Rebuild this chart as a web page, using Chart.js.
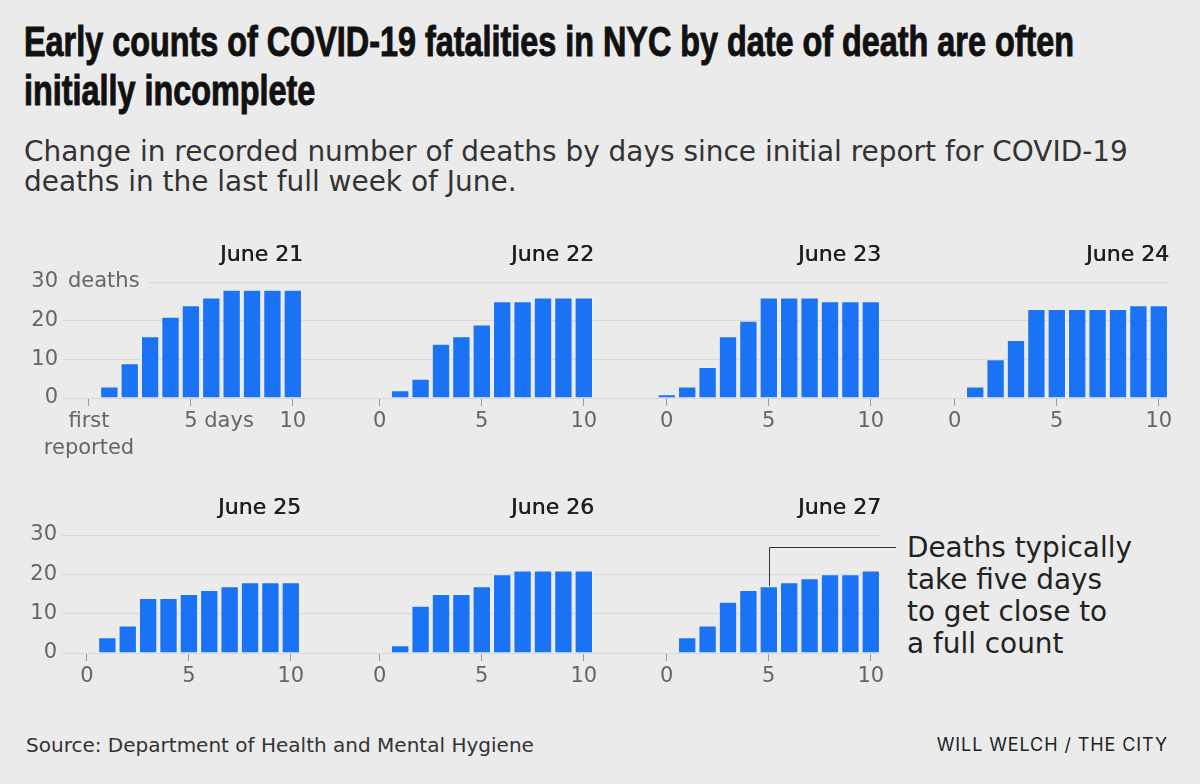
<!DOCTYPE html>
<html>
<head>
<meta charset="utf-8">
<script src="https://cdn.jsdelivr.net/npm/chart.js@4.4.0/dist/chart.umd.min.js"></script>
<style>
  body { margin: 0; background: #ebebeb; width: 1200px; height: 784px; overflow: hidden; position: relative; font-family: "DejaVu Sans", sans-serif; }
  .abs { position: absolute; white-space: nowrap; }
  #title { left: 24px; top: 17px; font-family: "Liberation Sans", sans-serif; font-weight: bold; font-size: 43px; line-height: 49px; color: #111; -webkit-text-stroke: 1px #111; }
  #title div { transform-origin: left center; }
  #subtitle { left: 24px; top: 137px; font-size: 24px; line-height: 30px; color: #333; }
  #note { left: 907px; top: 532px; font-size: 24px; line-height: 32px; color: #222; }
  #source { left: 26px; top: 733px; font-size: 18px; line-height: 24px; color: #333; }
  #credit { right: 32px; top: 733px; font-family: Inter, sans-serif; font-size: 18px; line-height: 24px; color: #222; letter-spacing: 0.9px; }
  canvas { position: absolute; }
</style>
</head>
<body>
<div id="title" class="abs"><div>Early counts of COVID-19 fatalities in NYC by date of death are often</div><div>initially incomplete</div></div>
<div id="subtitle" class="abs"><span class="l1">Change in recorded number of deaths by days since initial report for COVID-19</span><br>deaths in the last full week of June.</div>
<div id="note" class="abs"><span class="l1">Deaths typically</span><br>take five days<br>to get close to<br>a full count</div>
<div id="source" class="abs"><span class="l1">Source: Department of Health and Mental Hygiene</span></div>
<div id="credit" class="abs">WILL WELCH / THE CITY</div>

<script>
// days since the first report
const days = [0, 1, 2, 3, 4, 5, 6, 7, 8, 9, 10];
const dates = ['June 21', 'June 22', 'June 23', 'June 24', 'June 25', 'June 26', 'June 27'];

// recorded deaths for each date of death, by days since first report
const june21 = [0, 3, 9, 16, 21, 24, 26, 28, 28, 28, 28];
const june22 = [0, 2, 5, 14, 16, 19, 25, 25, 26, 26, 26];
const june23 = [1, 3, 8, 16, 20, 26, 26, 26, 25, 25, 25];
const june24 = [0, 3, 10, 15, 23, 23, 23, 23, 23, 24, 24];
const june25 = [0, 4, 7, 14, 14, 15, 16, 17, 18, 18, 18];
const june26 = [0, 2, 12, 15, 15, 17, 20, 21, 21, 21, 21];
const june27 = [0, 4, 7, 13, 16, 17, 18, 19, 20, 20, 21];
const series = [june21, june22, june23, june24, june25, june26, june27];

const xTicks = [0, 5, 10];
const yTicks = [0, 10, 20, 30];
const firstXLabels = [['first', 'reported'], '5', '10'];

// fit the condensed headline to its width
document.querySelectorAll('#title div').forEach(function (d) {
  d.style.display = 'inline-block';
});
const t1 = document.querySelector('#title div');
const k = 1050 / t1.getBoundingClientRect().width;
document.querySelectorAll('#title div').forEach(function (d) {
  d.style.transform = 'scaleX(' + k + ')';
  d.style.display = 'block';
});

// size the text blocks so their first line matches the reference width
function fitWidth(id, target) {
  const el = document.getElementById(id);
  const w = el.querySelector('.l1').getBoundingClientRect().width;
  const fs = parseFloat(getComputedStyle(el).fontSize);
  el.style.fontSize = (fs * target / w).toFixed(2) + 'px';
}
fitWidth('subtitle', 1104);
fitWidth('note', 225);
fitWidth('source', 508);

const FONT = 'DejaVu Sans';
Chart.defaults.font.family = FONT;
Chart.defaults.animation = false;

const BLUE = '#1a73f4';
const GRID = '#d8d8d8';
const TICK_TEXT = '#666';
const TICK_SIZE = 21;
const PPD = 20.4; // pixels per day

const rows = [
  { top: 282, bottom: 398, canvasTop: 230, xh: 70, left: 63 },
  { top: 535, bottom: 653, canvasTop: 485, xh: 40, left: 62 }
];
const panels = [
  { row: 0, day0: 89, first: true },
  { row: 0, day0: 380 },
  { row: 0, day0: 667 },
  { row: 0, day0: 955 },
  { row: 1, day0: 87, first: true },
  { row: 1, day0: 380 },
  { row: 1, day0: 667, note: true }
];

const panelText = {
  id: 'panelText',
  afterDraw(chart, args, opts) {
    const ctx = chart.ctx;
    const a = chart.chartArea;
    const xs = chart.scales.x, ys = chart.scales.y;
    ctx.save();
    ctx.textBaseline = 'middle';
    ctx.font = '22px "' + FONT + '"';
    ctx.fillStyle = '#1e1e1e';
    ctx.textAlign = 'right';
    ctx.fillText(opts.title, a.right, a.top - 27);
    ctx.fillText(opts.title, a.right + 0.4, a.top - 27);

    if (opts.units) {
      ctx.font = TICK_SIZE + 'px "' + FONT + '"';
      const yy = ys.getPixelForValue(30);
      const w = ctx.measureText('deaths').width;
      ctx.fillStyle = '#ebebeb';
      ctx.fillRect(a.left, yy - 3, w + 14, 6);
      ctx.fillStyle = TICK_TEXT;
      ctx.textAlign = 'left';
      ctx.fillText('deaths', a.left + 5, yy);
      const xx = xs.getPixelForValue(5) + ctx.measureText('5').width / 2 + ctx.measureText(' ').width;
      ctx.fillText('days', xx, a.bottom + 8 + 1.5 + TICK_SIZE * 1.3 / 2);
    }

    if (opts.note) {
      const px = xs.getPixelForValue(5);
      const py = ys.getPixelForValue(opts.values[5]);
      const ly = a.top + 12;
      ctx.strokeStyle = '#333';
      ctx.lineWidth = 1;
      ctx.beginPath();
      ctx.moveTo(Math.round(px) + 0.5, py);
      ctx.lineTo(Math.round(px) + 0.5, Math.round(ly) + 0.5);
      ctx.lineTo(a.right + 15, Math.round(ly) + 0.5);
      ctx.stroke();
    }
    ctx.restore();
  }
};

let prevRight = 0;
panels.forEach(function (p, i) {
  const r = rows[p.row];
  const areaRight = p.day0 + 10.5 * PPD;
  const areaLeft = p.first ? r.left : prevRight;
  prevRight = areaRight;
  const padL = p.first ? 0 : 20;
  const padR = p.note ? 40 : 20;
  const cLeft = p.first ? 0 : areaLeft - 20;
  const yw = p.first ? areaLeft : 0;
  const W = Math.round(areaRight + padR - cLeft);
  const H = r.bottom - r.canvasTop + r.xh;

  const cv = document.createElement('canvas');
  cv.width = W;
  cv.height = H;
  cv.style.left = cLeft + 'px';
  cv.style.top = r.canvasTop + 'px';
  cv.style.width = W + 'px';
  cv.style.height = H + 'px';
  document.body.appendChild(cv);

  const unitsPanel = (i === 0);

  new Chart(cv.getContext('2d'), {
    type: 'bar',
    data: {
      labels: days,
      datasets: [{
        data: series[i],
        backgroundColor: BLUE,
        borderColor: 'rgba(255,255,255,0.3)',
        borderWidth: 1,
        barPercentage: 0.9,
        categoryPercentage: 1
      }]
    },
    plugins: [panelText],
    options: {
      responsive: false,
      devicePixelRatio: 1,
      layout: { padding: { left: padL, right: padR, top: r.top - r.canvasTop, bottom: 0 } },
      plugins: {
        legend: { display: false },
        tooltip: { enabled: false },
        panelText: { title: dates[i], units: unitsPanel, note: !!p.note, values: series[i] }
      },
      scales: {
        x: {
          type: 'linear',
          min: -(p.day0 - areaLeft) / PPD,
          max: 10.5,
          offset: false,
          afterBuildTicks: function (s) { s.ticks = xTicks.map(function (v) { return { value: v }; }); },
          afterFit: function (s) { s.height = r.xh; },
          grid: { offset: false, drawOnChartArea: false, tickLength: 8, color: '#9a9a9a' },
          border: { display: false },
          ticks: {
            padding: 1.5,
            maxRotation: 0,
            autoSkip: false,
            color: TICK_TEXT,
            font: { size: TICK_SIZE, lineHeight: 1.3 },
            callback: function (v) {
              return unitsPanel ? firstXLabels[xTicks.indexOf(v)] : String(v);
            }
          }
        },
        y: {
          min: 0,
          max: 30,
          afterBuildTicks: function (s) { s.ticks = yTicks.map(function (v) { return { value: v }; }); },
          afterFit: function (s) { s.width = yw; },
          grid: { color: GRID, drawTicks: false },
          border: { display: false },
          ticks: { display: !!p.first, padding: 5, color: TICK_TEXT, font: { size: TICK_SIZE } }
        }
      }
    }
  });
});
</script>
</body>
</html>
